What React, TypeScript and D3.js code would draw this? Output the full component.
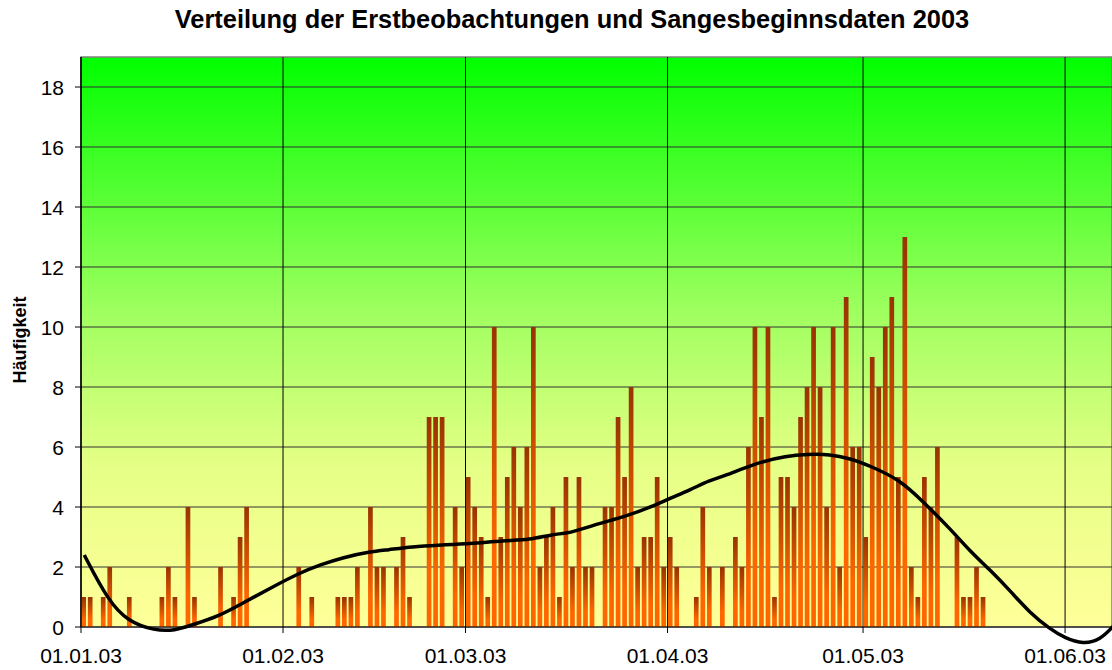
import React from "react";
import * as d3 from "d3";

const chartTitle = "Verteilung der Erstbeobachtungen und Sangesbeginnsdaten 2003";
const yAxisLabel = "Häufigkeit";

// day offset from 01.01.2003 and count of observations
const barDays = [
  0, 1, 3, 4, 7, 12, 13, 14, 16, 17, 21, 23, 24, 25,
  33, 35, 39, 40, 41, 42, 44, 45, 46, 48, 49, 50, 53, 54, 55, 57, 58, 59,
  60, 61, 62, 63, 64, 65, 66, 67, 68, 69, 70, 71, 72, 73, 74, 75, 76, 77, 78,
  80, 81, 82, 83, 84, 85, 86, 87, 88, 89, 90, 91, 94, 95, 96, 98,
  100, 101, 102, 103, 104, 105, 106, 107, 108, 109, 110, 111, 112, 113, 114, 115, 116, 117, 118, 119,
  120, 121, 122, 123, 124, 125, 126, 127, 128, 129, 130, 131, 134, 135, 136, 137, 138,
];
const barCounts = [
  1, 1, 1, 2, 1, 1, 2, 1, 4, 1, 2, 1, 3, 4,
  2, 1, 1, 1, 1, 2, 4, 2, 2, 2, 3, 1, 7, 7, 7, 4, 2, 5,
  4, 3, 1, 10, 3, 5, 6, 4, 6, 10, 2, 3, 4, 1, 5, 2, 5, 2, 2,
  4, 4, 7, 5, 8, 2, 3, 3, 5, 2, 3, 2, 1, 4, 2, 2,
  3, 2, 6, 10, 7, 10, 1, 5, 5, 4, 7, 8, 10, 8, 4, 10, 2, 11, 6, 6,
  3, 9, 8, 10, 11, 5, 13, 2, 1, 5, 4, 6, 3, 1, 1, 2, 1,
];

// smoothed trend line (day offset, value)
const trendDays = [
  0.5, 4.1, 7.2, 11.3, 14.4, 17.0, 21.0, 25.2, 29.0, 33.6, 36.7, 40.2, 44.4, 47.0, 50.9,
  54.6, 59.7, 64.8, 68.9, 72.4, 75.0, 78.6, 83.8, 87.8, 90.4, 93.5, 96.5, 98.5, 103.7,
  108.3, 111.4, 114.9, 118.0, 121.1, 125.7, 129.2, 133.3, 136.4, 139.5, 142.6, 145.6,
  148.7, 151.0, 153.8, 156.4, 158.5,
];
const trendValues = [
  2.4, 0.9, 0.18, -0.12, -0.12, 0.07, 0.34, 0.84, 1.29, 1.81, 2.07, 2.32, 2.51, 2.57, 2.68,
  2.73, 2.77, 2.88, 2.9, 3.1, 3.12, 3.4, 3.7, 4.03, 4.29, 4.57, 4.9, 5.01, 5.48,
  5.7, 5.76, 5.76, 5.62, 5.37, 4.9, 4.18, 3.29, 2.53, 1.9, 1.2, 0.47,
  -0.07, -0.37, -0.57, -0.43, 0.05,
];

const yTicks = [0, 2, 4, 6, 8, 10, 12, 14, 16, 18];

const W = 1112;
const H = 670;
const left = 81;
const right = 1112;
const top = 57;
const bottom = 627;
const font = "Arial, 'Liberation Sans', Helvetica, sans-serif";

export default function App() {
  const start = new Date(Date.UTC(2003, 0, 1));
  const toDate = (d: number) => new Date(start.getTime() + d * 864e5);
  const x = d3.scaleUtc().domain([start, toDate(158.2)]).range([left, right]);
  const y = d3.scaleLinear().domain([0, 19]).range([bottom, top]);
  const months = d3.utcMonth.range(start, toDate(158.2));
  const fmt = d3.utcFormat("%d.%m.%y");
  const dayW = x(toDate(1)) - x(toDate(0));

  const line = d3
    .line<number>()
    .x((_, i) => x(toDate(trendDays[i])))
    .y((v) => y(v))
    .curve(d3.curveBasis);

  return (
    <svg
      width={W}
      height={H}
      style={{ position: "absolute", left: 0, top: 0, background: "#fff" }}
      fontFamily={font}
    >
      <defs>
        <linearGradient id="bg" x1="0" y1="0" x2="0" y2="1">
          <stop offset="0" stopColor="#00ff00" />
          <stop offset="0.45" stopColor="#a0ff60" />
          <stop offset="0.72" stopColor="#e6ff86" />
          <stop offset="1" stopColor="#ffff99" />
        </linearGradient>
        <linearGradient id="bar" x1="0" y1="0" x2="0" y2="1">
          <stop offset="0" stopColor="#993300" />
          <stop offset="0.75" stopColor="#ff6600" />
          <stop offset="1" stopColor="#ff6600" />
        </linearGradient>
      </defs>
      <rect width={W} height={H} fill="#fff" />
      <text
        x={572}
        y={28}
        textAnchor="middle"
        fontWeight="bold"
        fontSize={25.4}
        fill="#000"
      >
        {chartTitle}
      </text>
      <rect
        x={left}
        y={top}
        width={right - left}
        height={bottom - top}
        fill="url(#bg)"
        stroke="#808080"
        strokeWidth={1.5}
      />
      {yTicks
        .filter((t) => t > 0)
        .map((t) => (
          <line key={t} x1={left} x2={right} y1={y(t)} y2={y(t)} stroke="#333" strokeWidth={1.2} />
        ))}
      {months.map((m, i) => (
        <line key={i} x1={x(m)} x2={x(m)} y1={top} y2={bottom} stroke="#000" strokeWidth={1} />
      ))}
      {barDays.map((d, i) => (
        <rect
          key={i}
          x={x(toDate(d)) + dayW * 0.05}
          y={y(barCounts[i])}
          width={dayW * 0.72}
          height={y(0) - y(barCounts[i])}
          fill="url(#bar)"
        />
      ))}
      <line x1={left} x2={left} y1={top} y2={bottom} stroke="#000" strokeWidth={1.2} />
      <line x1={left} x2={right} y1={bottom} y2={bottom} stroke="#000" strokeWidth={1.2} />
      {yTicks.map((t) => (
        <g key={t}>
          <line x1={left - 6} x2={left} y1={y(t)} y2={y(t)} stroke="#000" strokeWidth={1} />
          <text x={64} y={y(t)} dy="0.36em" textAnchor="end" fontSize={21} fill="#000">
            {t}
          </text>
        </g>
      ))}
      {months.map((m, i) => (
        <g key={i}>
          <line x1={x(m)} x2={x(m)} y1={bottom} y2={bottom + 6} stroke="#000" strokeWidth={1} />
          <text x={x(m)} y={663} textAnchor="middle" fontSize={21} fill="#000">
            {fmt(m)}
          </text>
        </g>
      ))}
      <text
        transform={`translate(26, 340) rotate(-90)`}
        textAnchor="middle"
        fontWeight="bold"
        fontSize={18}
        fill="#000"
      >
        {yAxisLabel}
      </text>
      <path d={line(trendValues) || ""} fill="none" stroke="#000" strokeWidth={3.5} strokeLinejoin="round" />
    </svg>
  );
}
